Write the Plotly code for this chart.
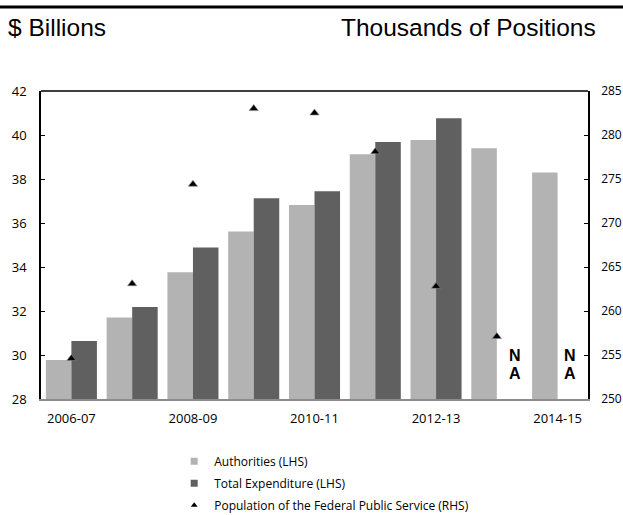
import plotly.graph_objects as go

# Financial years on the category axis
years = ["2006-07", "2007-08", "2008-09", "2009-10", "2010-11",
         "2011-12", "2012-13", "2013-14", "2014-15"]

# $ billions (left axis)
authorities = [29.77, 31.70, 33.76, 35.61, 36.82, 39.12, 39.77, 39.40, 38.29]
total_expenditure = [30.64, 32.18, 34.89, 37.12, 37.44, 39.68, 40.76, None, None]

# Thousands of positions (right axis)
population = [254.6, 263.1, 274.4, 283.0, 282.5, 278.1, 262.8, 257.1, None]

# Years shown on the axis (every second one)
labelled_years = years[::2]

LIGHT = "#b3b3b3"
DARK = "#606060"
TICK_FONT = dict(family="Open Sans, sans-serif", size=13, color="#000000")
RIGHT_TICK_FONT = dict(family="Open Sans, sans-serif", size=12, color="#000000")
HEAD_FONT = dict(family="Liberation Sans, Arial, sans-serif", size=24.5, color="#000000")
NA_FONT = dict(family="Liberation Sans, Arial, sans-serif", size=16, color="#000000")

fig = go.Figure()

fig.add_trace(go.Bar(
    x=years, y=authorities, name="Authorities (LHS)",
    marker=dict(color=LIGHT, line=dict(width=0)), showlegend=False,
))
fig.add_trace(go.Bar(
    x=years, y=total_expenditure, name="Total Expenditure (LHS)",
    marker=dict(color=DARK, line=dict(width=0)), showlegend=False,
))
fig.add_trace(go.Scatter(
    x=years, y=population, yaxis="y2", mode="markers",
    name="Population of the Federal Public Service (RHS)",
    marker=dict(symbol="triangle-up", size=8, color="#000000",
                line=dict(color="#8a8a8a", width=0.6)),
    showlegend=False,
))

# Legend entries with small square swatches
for nm, col in [("Authorities (LHS)", LIGHT), ("Total Expenditure (LHS)", DARK)]:
    fig.add_trace(go.Scatter(
        x=[None], y=[None], mode="markers", name=nm, legendgroup=nm,
        marker=dict(symbol="square", size=7, color=col),
    ))
fig.add_trace(go.Scatter(
    x=[None], y=[None], mode="markers", yaxis="y2",
    name="Population of the Federal Public Service (RHS)",
    legendgroup="pop",
    marker=dict(symbol="triangle-up", size=6, color="#000000"),
))

# "NA" where expenditure is not available (letters stacked in the empty slot)
na_shifts = [18, 12]
na_years = [yr for yr, val in zip(years, total_expenditure) if val is None]
for yr, dx in zip(na_years, na_shifts):
    for letter, dy in (("N", 44), ("A", 26)):
        fig.add_annotation(
            x=yr, y=28, xref="x", yref="y", text=f"<b>{letter}</b>",
            showarrow=False, xshift=dx, yshift=dy, yanchor="middle",
            font=NA_FONT,
        )

# Header units
fig.add_annotation(x=-0.064, y=1.207, xref="paper", yref="paper", text="$ Billions",
                   showarrow=False, xanchor="left", yanchor="middle", font=HEAD_FONT)
fig.add_annotation(x=1.0183, y=1.207, xref="paper", yref="paper",
                   text="Thousands of Positions",
                   showarrow=False, xanchor="right", yanchor="middle", font=HEAD_FONT)

# Rule across the top of the page and the top border of the plot
fig.add_shape(type="line", xref="paper", yref="paper", x0=-0.08, x1=1.08,
              y0=1.273, y1=1.273, line=dict(color="#000000", width=3))
fig.add_shape(type="line", xref="paper", yref="paper", x0=0, x1=1,
              y0=1, y1=1, line=dict(color="#000000", width=1.5))

fig.update_layout(
    width=623, height=515,
    margin=dict(l=41, r=35, t=91, b=116, autoexpand=False),
    paper_bgcolor="#ffffff", plot_bgcolor="#ffffff",
    barmode="group", bargap=0.16, bargroupgap=0,
    xaxis=dict(
        type="category", categoryorder="array", categoryarray=years,
        range=[-0.5, 8.5], tickmode="array", tickvals=labelled_years,
        ticktext=labelled_years, ticks="", showgrid=False,
        showline=True, linecolor="#8c8c8c", linewidth=2,
        tickfont=TICK_FONT, ticklabelstandoff=6,
    ),
    yaxis=dict(
        range=[28, 42], dtick=2, tick0=28, showgrid=False, zeroline=False,
        showline=True, linecolor="#000000", linewidth=1.5,
        ticks="inside", ticklen=4, tickwidth=1, tickcolor="#000000",
        tickfont=TICK_FONT, ticklabelstandoff=10,
    ),
    yaxis2=dict(
        range=[250, 285], dtick=5, tick0=250, overlaying="y", side="right",
        showgrid=False, zeroline=False,
        showline=True, linecolor="#000000", linewidth=1.5,
        ticks="inside", ticklen=4, tickwidth=1, tickcolor="#000000",
        tickfont=RIGHT_TICK_FONT, ticklabelstandoff=9,
    ),
    legend=dict(
        x=0.2435, y=-0.155, xanchor="left", yanchor="top",
        orientation="v", bgcolor="rgba(0,0,0,0)",
        font=dict(family="Open Sans, sans-serif", size=12, color="#000000"),
        itemwidth=30, tracegroupgap=3, traceorder="grouped",
    ),
)

fig.write_html("out.html")
